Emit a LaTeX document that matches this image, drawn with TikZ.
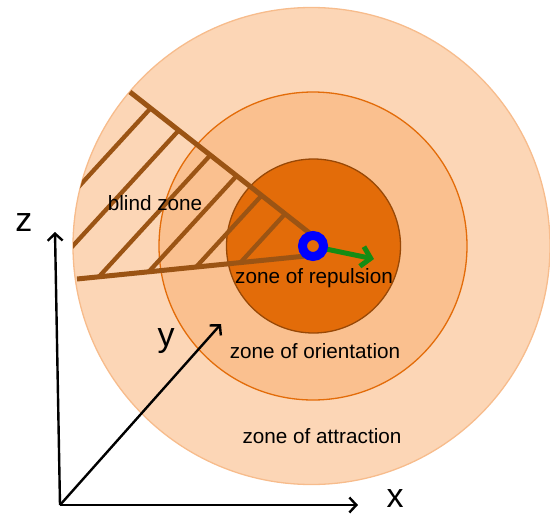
\documentclass[tikz,border=0pt]{standalone}
\usepackage{fontspec}
\setmainfont{Liberation Sans}
\usetikzlibrary{arrows.meta}
\definecolor{attr}{RGB}{252,214,182}
\definecolor{attrline}{RGB}{247,188,140}
\definecolor{orient}{RGB}{250,192,143}
\definecolor{orientline}{RGB}{227,108,9}
\definecolor{repul}{RGB}{227,108,9}
\definecolor{repulline}{RGB}{152,72,6}
\definecolor{blindc}{RGB}{155,84,20}
\definecolor{greenarr}{RGB}{20,140,20}
\begin{document}
\begin{tikzpicture}[x=1pt,y=-1pt,
  zonelabel/.style={font=\fontsize{20.7}{24}\selectfont, anchor=base, inner sep=0pt},
  axislabel/.style={font=\fontsize{34}{38}\selectfont, anchor=base, inner sep=0pt},
  axisarrow/.style={line width=2.4pt, -{Straight Barb[length=7pt,width=15pt]}},
  blindline/.style={blindc, line width=5pt},
  hatchline/.style={blindc, line width=4.3pt},
  zonecircle/.style={line width=1.3pt}]
\useasboundingbox (0,0) rectangle (550,515);
% zones
\filldraw[zonecircle, fill=attr, draw=attrline] (311.5,246) circle (238.5pt);
\filldraw[zonecircle, fill=orient, draw=orientline] (313,246) circle (154pt);
\filldraw[zonecircle, fill=repul, draw=repulline] (313.5,246) circle (87pt);
% blind zone hatch
\coordinate (U) at (130,92);
\coordinate (E) at (312,235);
\coordinate (L) at (77,279);
\coordinate (F) at (306,256);
\begin{scope}
  \clip (311.5,246) circle (238.5pt);
  \clip (E) -- (30,13.4) -- (0,286.7) -- (F) -- cycle;
  \foreach \px/\py in {116/146, 125/189, 155.5/215, 192.5/224, 230/230, 262.5/238.5}
    \draw[hatchline] (\px,\py) ++(-120,131) -- ++(240,-262);
\end{scope}
\draw[blindline] (U) -- (E);
\draw[blindline] (L) -- (F);
% fish
\coordinate (G0) at (326,249);
\coordinate (G1) at (374,259);
\draw[greenarr, line width=5pt, -{Straight Barb[length=9pt,width=20pt]}] (G0) -- (G1);
\node[circle, draw=blue, line width=9pt, minimum size=21pt, inner sep=0pt] (fish) at (313,246) {};
% labels
\node[zonelabel] (blind) at (155,210) {blind zone};
\node[zonelabel] (rep) at (314,283) {zone of repulsion};
\node[zonelabel] (ori) at (315,358) {zone of orientation};
\node[zonelabel] (att) at (322,443) {zone of attraction};
% axes
\coordinate (O) at (60,505);
\coordinate (Zt) at (55,232);
\coordinate (Xt) at (358,505);
\coordinate (Yt) at (221,324);
\draw[axisarrow] (O) -- (Zt);
\draw[axisarrow] (O) -- (Xt);
\draw[axisarrow] (O) -- (Yt);
\node[axislabel] (zl) at (24,231) {z};
\node[axislabel] (yl) at (166,346) {y};
\node[axislabel] (xl) at (395,507) {x};
\end{tikzpicture}
\end{document}
